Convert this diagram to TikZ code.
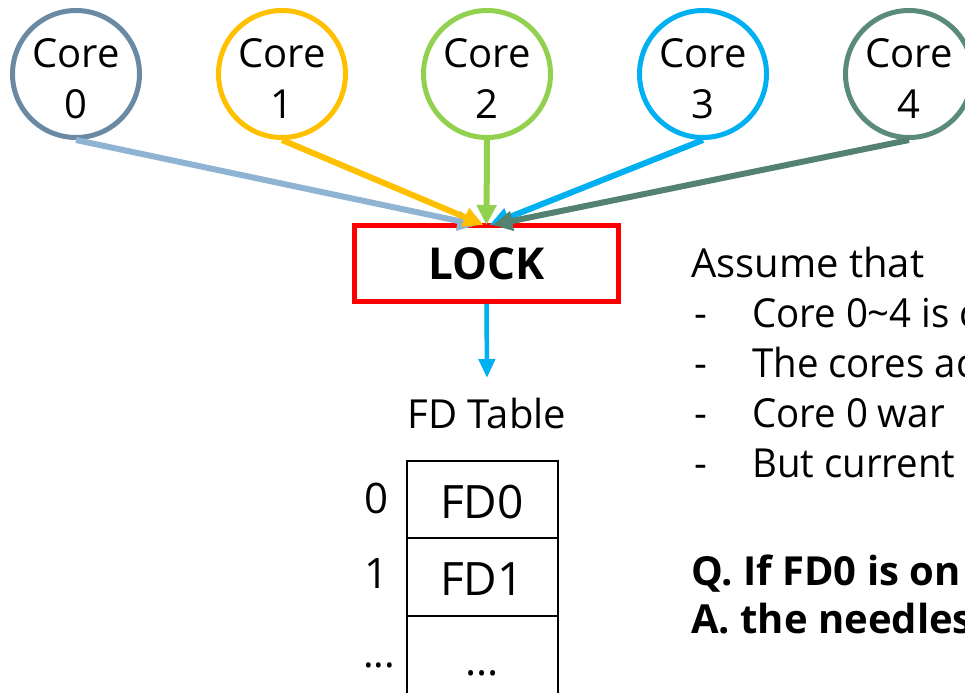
\documentclass[tikz,border=0pt]{standalone}
\usepackage{fontspec}
\setmainfont{Open Sans}
\usetikzlibrary{arrows.meta}
\definecolor{cgray}{RGB}{106,138,164}
\definecolor{cgrayarrow}{RGB}{143,179,210}
\definecolor{cyellow}{RGB}{255,192,0}
\definecolor{cgreen}{RGB}{146,208,80}
\definecolor{cblue}{RGB}{0,176,240}
\definecolor{cteal}{RGB}{90,138,122}
\definecolor{ctealarrow}{RGB}{84,130,112}
\definecolor{cred}{RGB}{255,0,0}
\tikzset{
  core/.style={circle, draw=#1, line width=5pt, minimum size=127pt, inner sep=0pt},
  corelabel/.style={font=\fontsize{40}{50}\selectfont, inner sep=0pt, anchor=base},
  feed/.style={draw=#1, line width=6pt, -{Triangle[length=20pt,width=19pt]}},
  lockbox/.style={draw=cred, line width=5pt, minimum width=264pt, minimum height=76pt,
    inner sep=0pt, font=\fontsize{44}{50}\selectfont\bfseries},
  body/.style={font=\fontsize{40}{50}\selectfont, inner sep=0pt},
  cellbody/.style={font=\fontsize{46}{50}\selectfont, inner sep=0pt, anchor=base},
  indexbody/.style={font=\fontsize{42}{50}\selectfont, inner sep=0pt, anchor=base},
  bodybold/.style={font=\fontsize{40}{50}\selectfont\bfseries, inner sep=0pt},
  cellline/.style={line width=2.2pt},
}
\begin{document}
\begin{tikzpicture}[x=1pt,y=-1pt]
\useasboundingbox (0,0) rectangle (965,693);
\clip (0,0) rectangle (965,693);

% cores
\foreach \n/\cx/\col in {0/76/cgray, 1/282/cyellow, 2/487/cgreen, 3/703/cblue, 4/909/cteal}{
  \node[core=\col] (c\n) at (\cx,74) {};
  \node[corelabel] (cw\n) at (\cx,67) {Core};
  \node[corelabel] (cn\n) at (\cx,118) {\n};
}

% lock
\node[lockbox] (lock) at (486.5,263.5) {LOCK};

% requests from the cores to the lock
\draw[feed=cgrayarrow] (c0.south) -- ([xshift=-9pt,yshift=-2pt]lock.north);
\draw[feed=cyellow]    (c1.south) -- ([xshift=-3pt,yshift=-2pt]lock.north);
\draw[feed=cgreen]     (c2.south) -- ([yshift=-2pt]lock.north);
\draw[feed=cblue]      (c3.south) -- ([xshift=3pt,yshift=-2pt]lock.north);
\draw[feed=ctealarrow] (c4.south) -- ([xshift=6pt,yshift=-2pt]lock.north);

% lock to fd table
\coordinate (tbl) at (487,378);
\draw[draw=cblue, line width=4.5pt, -{Triangle[length=19pt,width=16pt]}] (lock.south) -- (tbl);

\node[body, anchor=base] (fdt) at (487,428) {FD Table};

% fd table
\draw[cellline] (407,693) -- (407,461) -- (558,461) -- (558,693);
\draw[cellline] (407,538) -- (558,538);
\draw[cellline] (407,616) -- (558,616);
\node[cellbody] (fd0) at (482,518) {FD0};
\node[cellbody] (fd1) at (482,595) {FD1};
\node[indexbody] (fdx) at (482,675) {...};
\node[indexbody] (i0) at (377,513) {0};
\node[indexbody] (i1) at (377,588) {1};
\node[body, anchor=base] (ix) at (379,667) {...};

% assumptions
\node[body, anchor=base west] (as) at (691,277) {Assume that};
\foreach \yy/\txt [count=\k] in {327/{Core 0\textasciitilde4 is c}, 377/{The cores ac}, 427/{Core 0 war}, 477/{But current}}{
  \node[body, anchor=base west] (d\k) at (694,\yy) {-};
  \node[body, anchor=base west, xscale=0.96] (t\k) at (752,\yy) {\txt};
}

\node[bodybold, anchor=base west] (q) at (691,585) {Q. If FD0 is on};
\node[bodybold, anchor=base west] (a) at (691,633) {A. the needles};
\end{tikzpicture}
\end{document}
